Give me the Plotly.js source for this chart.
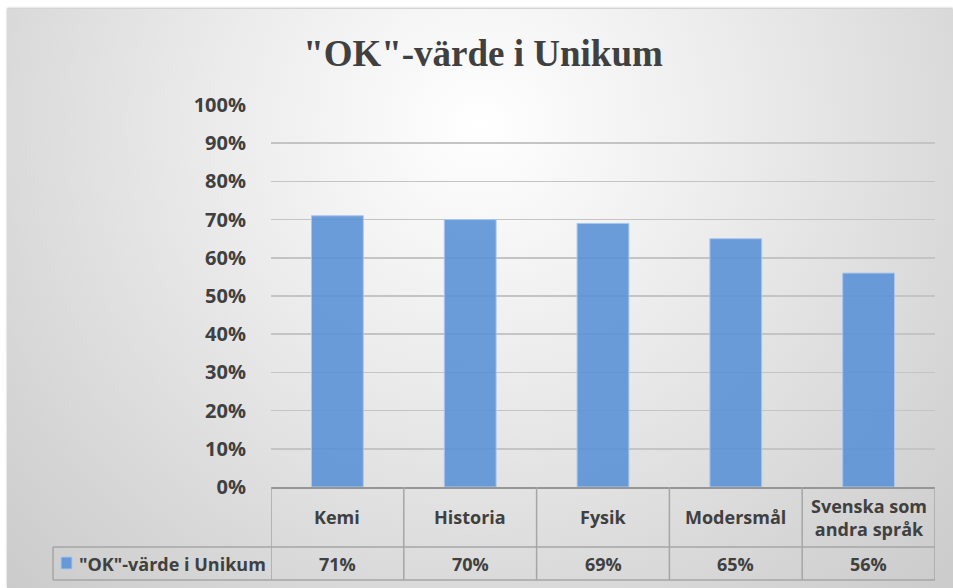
<!DOCTYPE html>
<html>
<head>
<meta charset="utf-8">
<script src="https://cdn.plot.ly/plotly-3.0.1.min.js"></script>
<style>
  html, body { margin: 0; padding: 0; background: #ffffff; }
  #frame {
    position: absolute; left: 7px; top: 9px; width: 946px; height: 579px;
    background: radial-gradient(ellipse farthest-corner at 50% 20%, #ffffff 0%, #ebebeb 40%, #d5d5d5 80%, #cbcbcb 100%);
    box-shadow: 0 -1px 2px rgba(0,0,0,0.25);
  }
  #chart { position: absolute; left: 0; top: 0; width: 953px; height: 588px; }
</style>
</head>
<body>
<div id="frame"></div>
<div id="chart"></div>
<script>
// ---- data ----
const categories = ['Kemi', 'Historia', 'Fysik', 'Modersmål', 'Svenska som<br>andra språk'];
const values = [0.71, 0.70, 0.69, 0.65, 0.56];
const seriesName = '"OK"-värde i Unikum';
const tickValues = [0, 0.1, 0.2, 0.3, 0.4, 0.5, 0.6, 0.7, 0.8, 0.9, 1.0];
const tickLabels = ['0%', '10%', '20%', '30%', '40%', '50%', '60%', '70%', '80%', '90%', '100%'];
const chartTitle = '"OK"-värde i Unikum';

// ---- layout geometry (pixels) ----
const W = 953, H = 588;
const L = 271, R = 935, T = 105, B = 487;
const plotW = R - L, plotH = B - T;
const px = x => (x - L) / plotW;   // pixel x -> paper x
const py = y => (B - y) / plotH;   // pixel y -> paper y

const barColor = 'rgba(91,146,215,0.9)';
const lineColor = '#a6a6a6';
const textColor = '#404040';
const font = 'Open Sans, Liberation Sans, sans-serif';
const tableSize = 18;

const shapes = [];
const annotations = [];
const hline = (x0, x1, xref, y) => shapes.push({type: 'line', xref: xref, yref: 'paper', x0: x0, x1: x1, y0: y, y1: y, line: {color: lineColor, width: 1.5}, layer: 'above'});
const vline = (x, xref, y0, y1) => shapes.push({type: 'line', xref: xref, yref: 'paper', x0: x, x1: x, y0: y0, y1: y1, line: {color: lineColor, width: 1.5}, layer: 'above'});

const n = categories.length;
// table horizontal lines
hline(-0.5, n - 0.5, 'x', py(547));
hline(-0.5, n - 0.5, 'x', py(580));
hline(px(53), 0, 'paper', py(547));
hline(px(53), 0, 'paper', py(580));
// table vertical lines
for (let i = 0; i <= n; i++) vline(i - 0.5, 'x', py(487), py(580));
vline(px(53), 'paper', py(547), py(580));
// legend key
shapes.push({type: 'rect', xref: 'paper', yref: 'paper', x0: px(61), x1: px(72), y0: py(569), y1: py(557), fillcolor: barColor, line: {color: '#a9c6ee', width: 1}});

categories.forEach((c, i) => {
  annotations.push({xref: 'x', yref: 'paper', x: i, y: py(517), text: '<b>' + c + '</b>', showarrow: false, font: {family: font, size: tableSize, color: textColor}, align: 'center', yanchor: 'middle'});
  annotations.push({xref: 'x', yref: 'paper', x: i, y: py(564), text: '<b>' + Math.round(values[i] * 100) + '%</b>', showarrow: false, font: {family: font, size: tableSize, color: textColor}, yanchor: 'middle'});
});
annotations.push({xref: 'paper', yref: 'paper', x: px(77), y: py(564), xanchor: 'left', yanchor: 'middle', text: '<b>' + seriesName + '</b>', showarrow: false, font: {family: font, size: tableSize, color: textColor}});

const trace = {
  type: 'bar',
  x: categories,
  y: values,
  name: seriesName,
  width: 0.39,
  marker: {color: barColor, line: {color: '#a9c6ee', width: 1}},
  hoverinfo: 'none'
};

const layout = {
  width: W, height: H,
  margin: {l: L, r: W - R, t: T, b: H - B, pad: 0},
  paper_bgcolor: 'rgba(0,0,0,0)',
  plot_bgcolor: 'rgba(0,0,0,0)',
  showlegend: false,
  title: {
    text: '<b>' + chartTitle + '</b>',
    xref: 'container', yref: 'container',
    x: 483 / W, xanchor: 'center',
    y: 1 - 53 / H, yanchor: 'middle',
    font: {family: 'Liberation Serif, serif', size: 37, color: textColor}
  },
  xaxis: {
    type: 'category',
    range: [-0.5, n - 0.5],
    showticklabels: false,
    showgrid: false,
    zeroline: false,
    showline: true, linecolor: '#969696', linewidth: 2,
    fixedrange: true
  },
  yaxis: {
    range: [0, 1],
    tickvals: tickValues,
    ticktext: tickLabels.map(t => '<b>' + t + '</b>'),
    ticks: 'outside', ticklen: 20, tickcolor: 'rgba(0,0,0,0)',
    tickfont: {family: font, size: 20, color: textColor},
    showgrid: true, gridcolor: '#c4c4c4', gridwidth: 1.5,
    zeroline: false, showline: false,
    fixedrange: true
  },
  shapes: shapes,
  annotations: annotations
};

Plotly.newPlot('chart', [trace], layout, {displayModeBar: false, staticPlot: true});
</script>
</body>
</html>
